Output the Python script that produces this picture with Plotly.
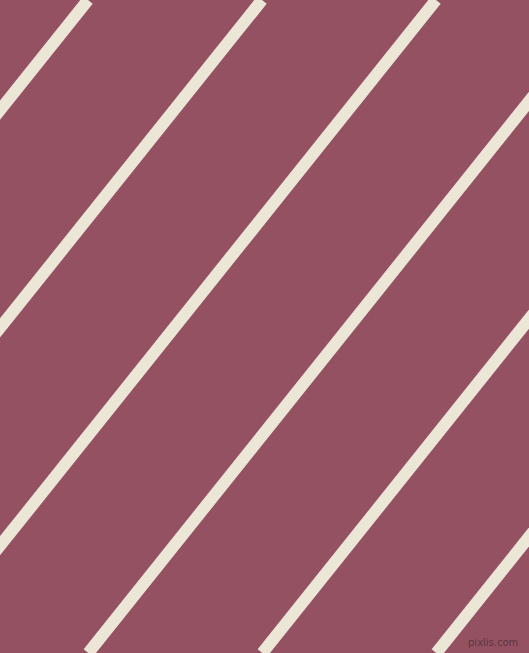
import plotly.graph_objects as go

# Diagonal stripe pattern: each stripe given by its x position at the top (y=0)
# and at the bottom (y=653) edge of the image, in pixel units.
stripe_top_x = [88, 262, 436, 610, 784, 958]
stripe_bottom_x = [-433.7, -259.7, -85.7, 88.3, 262.3, 436.3]
edge_y = [0, 653]

W, H = 529, 653
bg_color = "#945162"
stripe_color = "#ECE6D7"

fig = go.Figure()
for xt, xb in zip(stripe_top_x, stripe_bottom_x):
    fig.add_trace(go.Scatter(
        x=[xt, xb], y=edge_y, mode="lines",
        line=dict(color=stripe_color, width=12),
        hoverinfo="skip", showlegend=False,
    ))

fig.add_annotation(
    x=1, y=0, xref="paper", yref="paper", xanchor="right", yanchor="bottom",
    xshift=-9, yshift=3,
    text="pixlis.com", showarrow=False,
    font=dict(family="DejaVu Sans", size=10, color="rgba(70,45,55,0.75)"),
)

fig.update_layout(
    width=W, height=H,
    margin=dict(l=0, r=0, t=0, b=0),
    paper_bgcolor=bg_color, plot_bgcolor=bg_color,
    xaxis=dict(range=[0, W], visible=False, fixedrange=True),
    yaxis=dict(range=[H, 0], visible=False, fixedrange=True),
)
fig.write_html(
    "out.html",
    config={"displayModeBar": False},
    post_script="document.body.style.margin='0';document.body.style.overflow='hidden';",
)
